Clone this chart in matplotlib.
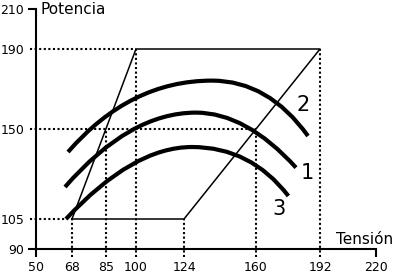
import matplotlib
matplotlib.use('Agg')
import matplotlib.pyplot as plt
from matplotlib.path import Path
from matplotlib.patches import PathPatch

# axis ticks
x_ticks = [50, 68, 85, 100, 124, 160, 192, 220]
y_ticks = [90, 105, 150, 190, 210]

# working area (parallelogram)
area_x = [68, 100, 192, 124, 68]
area_y = [105, 190, 190, 105, 105]

# guide lines: (x, y) corner points projected to the axes
guide_h = [(100, 190), (160, 150), (66, 105)]
guide_v = [(68, 105), (85, 150), (100, 190), (124, 105), (160, 150), (192, 190)]

# curves: start, control, peak, control, end (quadratic bezier halves)
c2_x = [66, 97, 138, 166.2, 186]
c2_y = [138.5, 174.2, 174.2, 174.2, 146.5]
c1_x = [64.5, 96.8, 130, 155, 180]
c1_y = [121, 158.2, 158.2, 158.2, 130.7]
c3_x = [65, 98.5, 128, 157.4, 176.2]
c3_y = [105, 141, 141, 141, 116.5]
curve_labels = [('2', 183.5, 162), ('1', 185.5, 128), ('3', 171.5, 110)]

fig = plt.figure(figsize=(3.95, 2.77), dpi=100)
ax = fig.add_axes([36/395, 28/277, 340/395, 240/277])
ax.set_xlim(50, 220)
ax.set_ylim(90, 210)
for s in ['top', 'right']:
    ax.spines[s].set_visible(False)
for s in ['left', 'bottom']:
    ax.spines[s].set_linewidth(1.5)

ax.set_xticks(x_ticks)
ax.set_yticks(y_ticks)
ax.tick_params(length=6, width=1.5, pad=2.5, labelsize=9)
for v, t in zip(x_ticks, ax.xaxis.get_major_ticks()):
    if v not in (50, 220):
        t.tick1line.set_visible(False)
for v, t in zip(y_ticks, ax.yaxis.get_major_ticks()):
    if v not in (90, 210):
        t.tick1line.set_visible(False)

dot = dict(color='black', lw=1.5, ls=(0, (1, 1.2)), clip_on=False)
for x, y in guide_h:
    ax.plot([47, x], [y, y], **dot)
for x, y in guide_v:
    ax.plot([x, x], [86, y], **dot)

ax.plot(area_x, area_y, color='black', lw=1.1)

codes = [Path.MOVETO, Path.CURVE3, Path.CURVE3, Path.CURVE3, Path.CURVE3]
for xs, ys in [(c2_x, c2_y), (c1_x, c1_y), (c3_x, c3_y)]:
    p = Path(list(zip(xs, ys)), codes)
    ax.add_patch(PathPatch(p, fill=False, ec='black', lw=3, capstyle='butt'))

for t, x, y in curve_labels:
    ax.text(x, y, t, fontsize=15, ha='center', va='center')

ax.text(52, 210, 'Potencia', fontsize=11, ha='left', va='center', clip_on=False)
ax.text(228.5, 91, 'Tensión', fontsize=11, ha='right', va='bottom', clip_on=False)

fig.savefig('out.png', dpi=100)
